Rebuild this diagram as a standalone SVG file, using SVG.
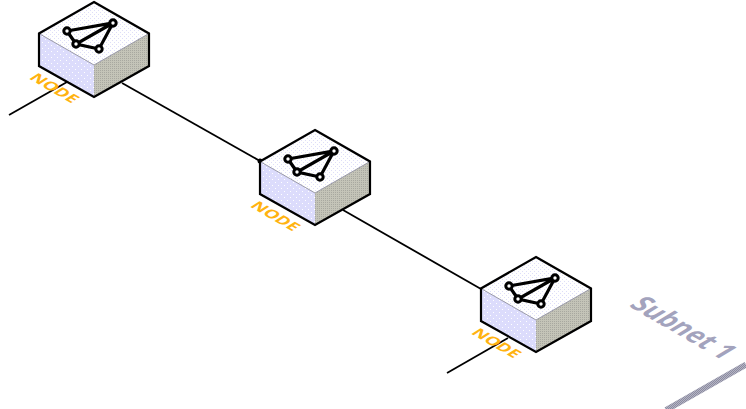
<svg xmlns="http://www.w3.org/2000/svg" width="746" height="409" viewBox="0 0 746 409">
<style>
.edge{fill:none;stroke:#000;stroke-width:1.8}
.o{fill:none;stroke:#000;stroke-width:2.200;stroke-linejoin:miter}
.ic{fill:none;stroke:#000;stroke-width:3.200}
.nc{fill:#fff;stroke:#000;stroke-width:3}
.lbl{font-family:"Open Sans",sans-serif;font-weight:700;font-size:15px;fill:#ffb310;text-anchor:middle}
.sub{font-family:"Open Sans",sans-serif;font-weight:700;font-size:25px;fill:#a3a3bd;text-anchor:middle}
</style>
<defs>
<pattern id="pt" width="4" height="4" patternUnits="userSpaceOnUse"><rect width="4" height="4" fill="#ffffff"/><rect width="1" height="1" fill="#dedef8"/><rect x="2" y="2" width="1" height="1" fill="#dedef8"/></pattern>
<pattern id="pl" width="6" height="6" patternUnits="userSpaceOnUse"><rect width="6" height="6" fill="#dcdcfc"/><rect width="1" height="1" fill="#fff"/><rect x="3" y="3" width="1" height="1" fill="#fff"/></pattern>
<pattern id="pr" width="2" height="2" patternUnits="userSpaceOnUse"><rect width="2" height="2" fill="#c4c4b8"/><rect width="1" height="1" fill="#a8a8a0"/></pattern>
<pattern id="pb" width="2" height="2" patternUnits="userSpaceOnUse"><rect width="2" height="2" fill="#b4b4c4"/><rect width="1" height="1" fill="#8c8ca0"/><rect x="1" y="1" width="1" height="1" fill="#8c8ca0"/></pattern>
<g id="box">
<path d="M94 2L149 33.500L94 65L39 33.500Z" fill="url(#pt)"/>
<path d="M39 33.500L94 65V97L39 66Z" fill="url(#pl)"/>
<path d="M149 33.500L94 65V97L149 66Z" fill="url(#pr)"/>
<path d="M39 33.500L94 65L149 33.500" fill="none" stroke="#9a9aa8" stroke-width="1"/>
<path class="o" d="M94 2L149 33.500V66L94 97L39 66V33.500Z"/>
<path class="ic" d="M67 31L113 23L99 49L76 44L113 23M67 31L76 44"/>
<circle class="nc" cx="67" cy="31" r="3.200"/>
<circle class="nc" cx="113" cy="23" r="3.200"/>
<circle class="nc" cx="76" cy="44" r="3.200"/>
<circle class="nc" cx="99" cy="49" r="3.200"/>
</g>
</defs>
<g id="connectors">
<path class="edge" d="M9 115L67 82"/>
<path class="edge" d="M122 83L260 161"/>
<circle cx="260" cy="161" r="2.500" fill="#000"/>
<path class="edge" d="M343 210L481 289"/>
<path class="edge" d="M447 373L508 338"/>
</g>
<g id="node-1"><use href="#box"/><text class="lbl" transform="matrix(1 .58 -.85 .55 50 91)">NODE</text></g>
<g id="node-2"><use href="#box" x="221" y="128"/><text class="lbl" transform="matrix(1 .58 -.85 .55 271 219)">NODE</text></g>
<g id="node-3"><use href="#box" x="442" y="255"/><text class="lbl" transform="matrix(1 .58 -.85 .55 492 346)">NODE</text></g>
<g id="subnet">
<text class="sub" transform="matrix(.866 .5 -1 .6 675 333)">Subnet 1</text>
<path d="M666 410L746 364.500" fill="none" stroke="url(#pb)" stroke-width="6"/>
</g>
</svg>
